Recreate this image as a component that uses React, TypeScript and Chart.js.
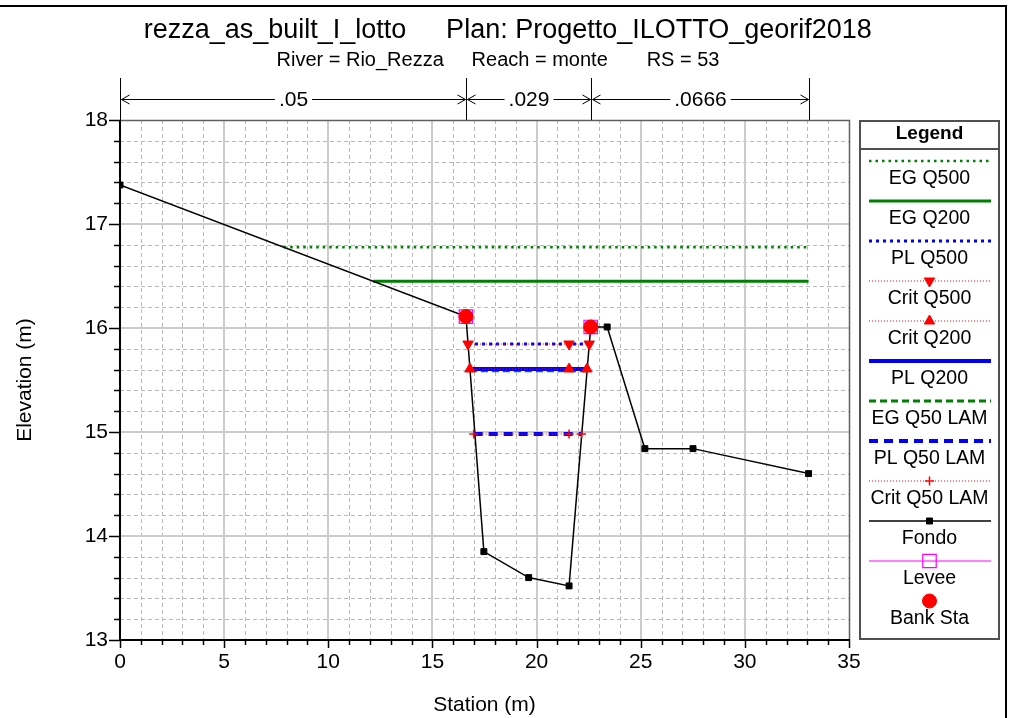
import React, { useEffect, useRef } from 'react';
import { Chart, registerables } from 'chart.js';

Chart.register(...registerables);

const FONT = '"Liberation Sans", Arial, Helvetica, sans-serif';

// ---- texts ----
const titleLeft = 'rezza_as_built_I_lotto';
const titleRight = 'Plan: Progetto_ILOTTO_georif2018';
const subtitle = 'River = Rio_Rezza     Reach = monte       RS = 53';
const xTitle = 'Station (m)';
const yTitle = 'Elevation (m)';
const legendTitle = 'Legend';

// ---- axes ----
const xMin = 0;
const xMax = 35;
const xMajorStep = 5;
const xMinorStep = 1;
const yMin = 13;
const yMax = 18;
const yMajorStep = 1;
const yMinorStep = 0.2;

// ---- Manning n regions ----
const manningN = ['.05', '.029', '.0666'];
const manningSta = [0, 16.61, 22.6, 33.06];

// ---- ground (Fondo) ----
const fondoSta = [0, 16.61, 17.47, 19.62, 21.56, 22.6, 23.39, 25.2, 27.51, 33.06];
const fondoElev = [17.375, 16.11, 13.85, 13.6, 13.52, 16.01, 16.01, 14.84, 14.84, 14.6];

// ---- bank stations / levees ----
const bankSta = [16.61, 22.6];
const bankElev = [16.11, 16.01];
const leveeSta = [16.61, 22.6];
const leveeElev = [16.11, 16.01];

// ---- water surfaces ----
const egQ500Sta = [7.86, 33.06];
const egQ500Elev = [16.776, 16.776];
const egQ200Sta = [12.15, 33.06];
const egQ200Elev = [16.449, 16.449];
const plQ500Sta = [16.71, 22.53];
const plQ500Elev = [15.846, 15.846];
const critQ500Sta = [16.71, 21.56, 22.53];
const critQ500Elev = [15.846, 15.846, 15.846];
const critQ200Sta = [16.8, 21.56, 22.42];
const critQ200Elev = [15.606, 15.606, 15.606];
const plQ200Sta = [16.8, 22.42];
const plQ200Elev = [15.606, 15.606];
const egQ50Sta = [16.8, 22.42];
const egQ50Elev = [15.588, 15.588];
const plQ50Sta = [16.98, 22.16];
const plQ50Elev = [14.98, 14.98];
const critQ50Sta = [16.98, 21.56, 22.16];
const critQ50Elev = [14.98, 14.98, 14.98];

const pts = (xs: number[], ys: number[]) => xs.map((x, i) => ({ x, y: ys[i] }));

const GREEN = '#008000';
const BLUE = '#0000ff';
const RED = '#ff0000';
const MAGENTA = '#ff00ff';

function markerPath(ctx: CanvasRenderingContext2D, style: string, x: number, y: number, r: number, rotation: number) {
  ctx.beginPath();
  if (style === 'circle') {
    ctx.arc(x, y, r, 0, Math.PI * 2);
  } else if (style === 'rect') {
    const s = r * Math.SQRT1_2;
    ctx.rect(x - s, y - s, 2 * s, 2 * s);
  } else if (style === 'triangle') {
    let rad = (rotation * Math.PI) / 180;
    ctx.moveTo(x + Math.sin(rad) * r, y - Math.cos(rad) * r);
    rad += (2 * Math.PI) / 3;
    ctx.lineTo(x + Math.sin(rad) * r, y - Math.cos(rad) * r);
    rad += (2 * Math.PI) / 3;
    ctx.lineTo(x + Math.sin(rad) * r, y - Math.cos(rad) * r);
    ctx.closePath();
  } else if (style === 'cross') {
    ctx.moveTo(x - r, y);
    ctx.lineTo(x + r, y);
    ctx.moveTo(x, y - r);
    ctx.lineTo(x, y + r);
  }
}

const decorPlugin = {
  id: 'hecDecor',
  beforeDatasetsDraw(chart: any) {
    const { ctx, chartArea: a, scales } = chart;
    const xs = scales.x;
    const ys = scales.y;
    ctx.save();
    // minor grid (dashed)
    ctx.setLineDash([4, 3]);
    ctx.strokeStyle = '#b8b8b8';
    ctx.lineWidth = 1;
    const nx = Math.round((xMax - xMin) / xMinorStep);
    for (let k = 1; k < nx; k++) {
      if (k % Math.round(xMajorStep / xMinorStep) === 0) continue;
      const px = Math.round(xs.getPixelForValue(xMin + k * xMinorStep)) + 0.5;
      ctx.beginPath();
      ctx.moveTo(px, a.top);
      ctx.lineTo(px, a.bottom);
      ctx.stroke();
    }
    const ny = Math.round((yMax - yMin) / yMinorStep);
    for (let k = 1; k < ny; k++) {
      if (k % Math.round(yMajorStep / yMinorStep) === 0) continue;
      const py = Math.round(ys.getPixelForValue(yMin + k * yMinorStep)) + 0.5;
      ctx.beginPath();
      ctx.moveTo(a.left, py);
      ctx.lineTo(a.right, py);
      ctx.stroke();
    }
    // major grid (solid)
    ctx.setLineDash([]);
    ctx.strokeStyle = '#cccccc';
    ctx.lineWidth = 2;
    for (let v = xMin + xMajorStep; v < xMax; v += xMajorStep) {
      const px = Math.round(xs.getPixelForValue(v));
      ctx.beginPath();
      ctx.moveTo(px, a.top);
      ctx.lineTo(px, a.bottom);
      ctx.stroke();
    }
    for (let v = yMin + yMajorStep; v < yMax; v += yMajorStep) {
      const py = Math.round(ys.getPixelForValue(v));
      ctx.beginPath();
      ctx.moveTo(a.left, py);
      ctx.lineTo(a.right, py);
      ctx.stroke();
    }
    ctx.restore();
  },
  afterDatasetsDraw(chart: any) {
    const { ctx, chartArea: a, scales } = chart;
    const xs = scales.x;
    const ys = scales.y;
    ctx.save();
    // top/right border of plot
    ctx.strokeStyle = '#606060';
    ctx.lineWidth = 1.5;
    ctx.beginPath();
    ctx.moveTo(a.left, a.top + 0.5);
    ctx.lineTo(a.right + 0.5, a.top + 0.5);
    ctx.lineTo(a.right + 0.5, a.bottom);
    ctx.stroke();
    // axes
    ctx.strokeStyle = '#000';
    ctx.lineWidth = 2;
    ctx.beginPath();
    ctx.moveTo(a.left, a.top);
    ctx.lineTo(a.left, a.bottom);
    ctx.lineTo(a.right + 1, a.bottom);
    ctx.stroke();
    // ticks
    ctx.lineWidth = 1.5;
    const ny = Math.round((yMax - yMin) / yMinorStep);
    for (let k = 0; k <= ny; k++) {
      const major = k % Math.round(yMajorStep / yMinorStep) === 0;
      const py = Math.round(ys.getPixelForValue(yMin + k * yMinorStep)) + 0.5;
      ctx.beginPath();
      ctx.moveTo(a.left - (major ? 11 : 6), py);
      ctx.lineTo(a.left, py);
      ctx.stroke();
    }
    const nx = Math.round((xMax - xMin) / xMinorStep);
    for (let k = 0; k <= nx; k++) {
      const major = k % Math.round(xMajorStep / xMinorStep) === 0;
      const px = Math.round(xs.getPixelForValue(xMin + k * xMinorStep)) + 0.5;
      ctx.beginPath();
      ctx.moveTo(px, a.bottom);
      ctx.lineTo(px, a.bottom + (major ? 8 : 5));
      ctx.stroke();
    }
    ctx.restore();
  },
  afterDraw(chart: any) {
    const { ctx, chartArea: a, scales, height } = chart;
    const xs = scales.x;
    ctx.save();
    ctx.fillStyle = '#000';
    // titles
    ctx.font = `27px ${FONT}`;
    ctx.textBaseline = 'middle';
    ctx.textAlign = 'center';
    ctx.fillText(titleLeft, 275, 31);
    ctx.fillText(titleRight, 659, 31);
    ctx.font = `20px ${FONT}`;
    ctx.fillText(subtitle, 498, 60);
    // axis titles
    ctx.font = `21px ${FONT}`;
    ctx.fillText(xTitle, (a.left + a.right) / 2, 705);
    ctx.save();
    ctx.translate(25, (a.top + a.bottom) / 2);
    ctx.rotate(-Math.PI / 2);
    ctx.fillText(yTitle, 0, 0);
    ctx.restore();

    // Manning n annotation
    const yArrow = 99;
    const yTop = 78;
    ctx.strokeStyle = '#000';
    ctx.lineWidth = 1;
    ctx.font = `21px ${FONT}`;
    for (const s of manningSta) {
      const px = Math.round(xs.getPixelForValue(s)) + 0.5;
      ctx.beginPath();
      ctx.moveTo(px, yTop);
      ctx.lineTo(px, a.top);
      ctx.stroke();
    }
    for (let i = 0; i < manningN.length; i++) {
      const x0 = Math.round(xs.getPixelForValue(manningSta[i])) + 0.5;
      const x1 = Math.round(xs.getPixelForValue(manningSta[i + 1])) + 0.5;
      const mid = (x0 + x1) / 2;
      const w = ctx.measureText(manningN[i]).width;
      ctx.beginPath();
      ctx.moveTo(x0 + 1, yArrow + 0.5);
      ctx.lineTo(mid - w / 2 - 4, yArrow + 0.5);
      ctx.moveTo(mid + w / 2 + 4, yArrow + 0.5);
      ctx.lineTo(x1 - 1, yArrow + 0.5);
      // arrow heads
      ctx.moveTo(x0 + 9, yArrow - 4);
      ctx.lineTo(x0 + 1, yArrow + 0.5);
      ctx.lineTo(x0 + 9, yArrow + 5);
      ctx.moveTo(x1 - 9, yArrow - 4);
      ctx.lineTo(x1 - 1, yArrow + 0.5);
      ctx.lineTo(x1 - 9, yArrow + 5);
      ctx.stroke();
      ctx.fillText(manningN[i], mid, yArrow + 1);
    }

    // legend
    const lx0 = 860;
    const lx1 = 999;
    const ly0 = 121;
    const ly1 = 639;
    const lc = (lx0 + lx1) / 2;
    ctx.fillStyle = '#fff';
    ctx.fillRect(lx0, ly0, lx1 - lx0, ly1 - ly0);
    ctx.strokeStyle = '#505050';
    ctx.lineWidth = 2;
    ctx.strokeRect(lx0, ly0, lx1 - lx0, ly1 - ly0);
    ctx.beginPath();
    ctx.moveTo(lx0, 149);
    ctx.lineTo(lx1, 149);
    ctx.stroke();
    ctx.fillStyle = '#000';
    ctx.font = `bold 19px ${FONT}`;
    ctx.fillText(legendTitle, lc, 134);
    ctx.font = `19.5px ${FONT}`;
    chart.data.datasets.forEach((ds: any, i: number) => {
      const ly = 161 + 40 * i;
      const ty = 179 + 40 * i;
      if (ds.showLine !== false || ds.legendLine) {
        ctx.save();
        ctx.strokeStyle = ds.borderColor;
        ctx.lineWidth = ds.borderWidth;
        ctx.setLineDash(ds.borderDash || []);
        ctx.beginPath();
        ctx.moveTo(869, ly);
        ctx.lineTo(991, ly);
        ctx.stroke();
        ctx.restore();
      }
      if (ds.pointRadius > 0) {
        ctx.save();
        markerPath(ctx, ds.pointStyle, lc, ly, ds.pointRadius, ds.pointRotation || 0);
        if (ds.pointStyle !== 'cross' && ds.pointBackgroundColor !== 'transparent') {
          ctx.fillStyle = ds.pointBackgroundColor;
          ctx.fill();
        }
        ctx.strokeStyle = ds.pointBorderColor;
        ctx.lineWidth = ds.pointBorderWidth;
        ctx.stroke();
        ctx.restore();
      }
      ctx.fillStyle = '#000';
      ctx.fillText(ds.label, lc, ty);
    });

    // outer frame
    ctx.strokeStyle = '#000';
    ctx.lineWidth = 2;
    ctx.beginPath();
    ctx.moveTo(0, 6);
    ctx.lineTo(1006, 6);
    ctx.lineTo(1006, height);
    ctx.stroke();
    ctx.restore();
  },
};

export default function App() {
  const ref = useRef<HTMLCanvasElement>(null);
  useEffect(() => {
    if (!ref.current) return;
    Chart.defaults.font.family = FONT;
    const line = (label: string, data: any[], color: string, width: number, dash: number[], order: number) => ({
      label,
      data,
      borderColor: color,
      backgroundColor: color,
      borderWidth: width,
      borderDash: dash,
      pointRadius: 0,
      pointStyle: 'circle',
      pointBackgroundColor: color,
      pointBorderColor: color,
      pointBorderWidth: 1,
      fill: false,
      tension: 0,
      order,
    });
    const crit = (label: string, data: any[], style: string, rot: number, r: number) => ({
      ...line(label, data, RED, 1, [1, 2], 2),
      pointRadius: r,
      pointStyle: style,
      pointRotation: rot,
      pointBorderWidth: style === 'cross' ? 1.5 : 1,
    });
    const datasets: any[] = [
      line('EG Q500', pts(egQ500Sta, egQ500Elev), GREEN, 2.5, [2.5, 4], 8),
      line('EG Q200', pts(egQ200Sta, egQ200Elev), GREEN, 3, [], 8),
      line('PL Q500', pts(plQ500Sta, plQ500Elev), BLUE, 3, [3, 4], 3),
      crit('Crit Q500', pts(critQ500Sta, critQ500Elev), 'triangle', 180, 6),
      crit('Crit Q200', pts(critQ200Sta, critQ200Elev), 'triangle', 0, 6),
      line('PL Q200', pts(plQ200Sta, plQ200Elev), BLUE, 4, [], 4),
      line('EG Q50 LAM', pts(egQ50Sta, egQ50Elev), GREEN, 3, [7, 4], 5),
      line('PL Q50 LAM', pts(plQ50Sta, plQ50Elev), BLUE, 4, [9, 6], 4),
      crit('Crit Q50 LAM', pts(critQ50Sta, critQ50Elev), 'cross', 0, 4.5),
      {
        ...line('Fondo', pts(fondoSta, fondoElev), '#000', 1.5, [], 6),
        pointRadius: 4.2,
        pointStyle: 'rect',
      },
      {
        ...line('Levee', pts(leveeSta, leveeElev), MAGENTA, 1, [], 1),
        showLine: false,
        legendLine: true,
        pointRadius: 9.5,
        pointStyle: 'rect',
        pointBackgroundColor: 'transparent',
        pointBorderWidth: 1.2,
      },
      {
        ...line('Bank Sta', pts(bankSta, bankElev), RED, 1, [], 0),
        showLine: false,
        pointRadius: 7,
        pointStyle: 'circle',
      },
    ];
    const chart = new Chart(ref.current, {
      type: 'line',
      data: { datasets },
      options: {
        responsive: false,
        animation: false,
        events: [],
        parsing: true,
        layout: { padding: { left: 0, top: 120, right: 162, bottom: 0 } },
        plugins: {
          legend: { display: false },
          tooltip: { enabled: false },
          title: { display: false },
        },
        scales: {
          x: {
            type: 'linear',
            min: xMin,
            max: xMax,
            grid: { display: false, drawTicks: false },
            border: { display: false },
            ticks: {
              stepSize: xMajorStep,
              color: '#000',
              font: { size: 21, family: FONT },
              padding: 10,
              maxRotation: 0,
            },
            afterFit: (s: any) => {
              s.height = 78;
            },
          },
          y: {
            type: 'linear',
            min: yMin,
            max: yMax,
            grid: { display: false, drawTicks: false },
            border: { display: false },
            ticks: {
              stepSize: yMajorStep,
              color: '#000',
              font: { size: 21, family: FONT },
              padding: 12,
            },
            afterFit: (s: any) => {
              s.width = 120;
            },
          },
        },
      },
      plugins: [decorPlugin],
    });
    return () => chart.destroy();
  }, []);
  return (
    <div style={{ position: 'fixed', left: 0, top: 0, width: 1011, height: 718, background: '#fff' }}>
      <canvas ref={ref} width={1011} height={718} style={{ display: 'block' }} />
    </div>
  );
}
